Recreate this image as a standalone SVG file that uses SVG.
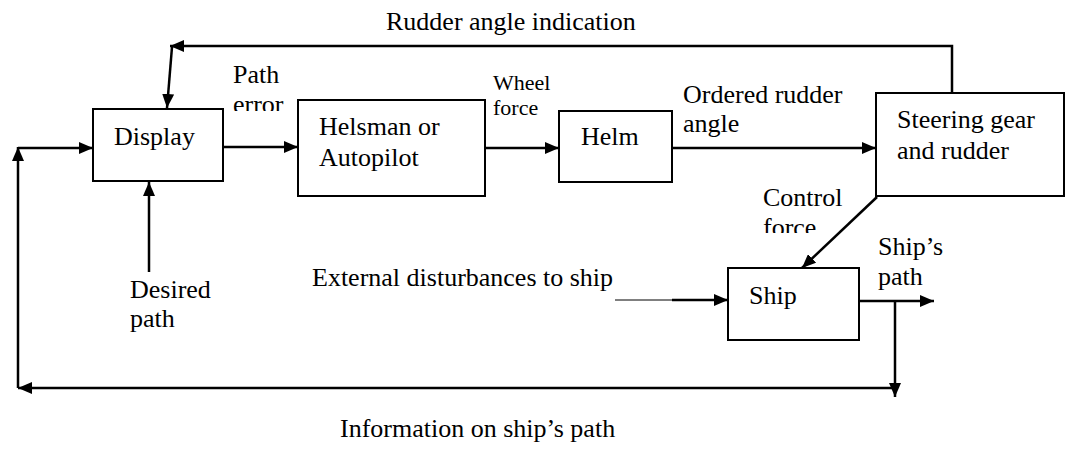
<svg xmlns="http://www.w3.org/2000/svg" width="1065" height="452" viewBox="0 0 1065 452">
<style>
text{font-family:"Liberation Serif","DejaVu Serif",serif;font-size:26px;fill:#000}
.sm{font-size:22px}
.box{fill:#fff;stroke:#000;stroke-width:2}
.ln{fill:none;stroke:#000;stroke-width:2.5}
.thin{fill:none;stroke:#000;stroke-width:1}
</style>
<defs>
<marker id="ah" markerUnits="userSpaceOnUse" markerWidth="14" markerHeight="12" refX="14" refY="6" orient="auto">
<path d="M0,0 L14,6 L0,12 z" fill="#000"/>
</marker>
<clipPath id="c1"><rect x="220" y="60" width="80" height="51"/></clipPath>
<clipPath id="c2"><rect x="750" y="180" width="120" height="53"/></clipPath>
</defs>
<rect width="1065" height="452" fill="#fff"/>
<g id="connectors">
<polyline class="ln" points="952,93 952,46 170,46" marker-end="url(#ah)"/>
<line class="ln" x1="172" y1="47" x2="167" y2="108" marker-end="url(#ah)"/>
<line class="ln" x1="223" y1="147" x2="298" y2="147" marker-end="url(#ah)"/>
<line class="ln" x1="485" y1="148" x2="559" y2="148" marker-end="url(#ah)"/>
<line class="ln" x1="672" y1="148" x2="876" y2="148" marker-end="url(#ah)"/>
<line class="ln" x1="149" y1="272" x2="149" y2="182" marker-end="url(#ah)"/>
<line class="ln" x1="877" y1="197" x2="802" y2="268" marker-end="url(#ah)"/>
<line class="thin" x1="615" y1="300" x2="672" y2="300"/>
<line class="ln" x1="672" y1="300" x2="728" y2="300" marker-end="url(#ah)"/>
<line class="ln" x1="859" y1="301" x2="934" y2="301" marker-end="url(#ah)"/>
<line class="ln" x1="895" y1="301" x2="895" y2="397" marker-end="url(#ah)"/>
<line class="ln" x1="895" y1="388" x2="18" y2="388" marker-end="url(#ah)"/>
<line class="ln" x1="18" y1="388" x2="18" y2="147" marker-end="url(#ah)"/>
<line class="ln" x1="18" y1="148" x2="93" y2="148" marker-end="url(#ah)"/>
</g>
<g id="display">
<rect class="box" x="93" y="109" width="130" height="72"/>
<text x="114" y="145">Display</text>
</g>
<g id="helsman">
<rect class="box" x="298" y="100" width="187" height="96"/>
<text x="319" y="135">Helsman or</text>
<text x="319" y="166">Autopilot</text>
</g>
<g id="helm">
<rect class="box" x="559" y="111" width="113" height="71"/>
<text x="581" y="145">Helm</text>
</g>
<g id="steering">
<rect class="box" x="876" y="93" width="188" height="103"/>
<text x="897" y="128">Steering gear</text>
<text x="897" y="159">and rudder</text>
</g>
<g id="ship">
<rect class="box" x="728" y="268" width="131" height="72"/>
<text x="749" y="304">Ship</text>
</g>
<g id="labels">
<text x="386" y="30">Rudder angle indication</text>
<g clip-path="url(#c1)"><text x="233" y="83">Path</text><text x="233" y="113">error</text></g>
<text class="sm" x="493" y="90">Wheel</text>
<text class="sm" x="493" y="115">force</text>
<text x="683" y="103">Ordered rudder</text>
<text x="683" y="132">angle</text>
<g clip-path="url(#c2)"><text x="763" y="206">Control</text><text x="763" y="236">force</text></g>
<text x="878" y="255">Ship’s</text>
<text x="878" y="285">path</text>
<text x="312" y="286">External disturbances to ship</text>
<text x="130" y="298">Desired</text>
<text x="130" y="327">path</text>
<text x="340" y="437">Information on ship’s path</text>
</g>
</svg>
